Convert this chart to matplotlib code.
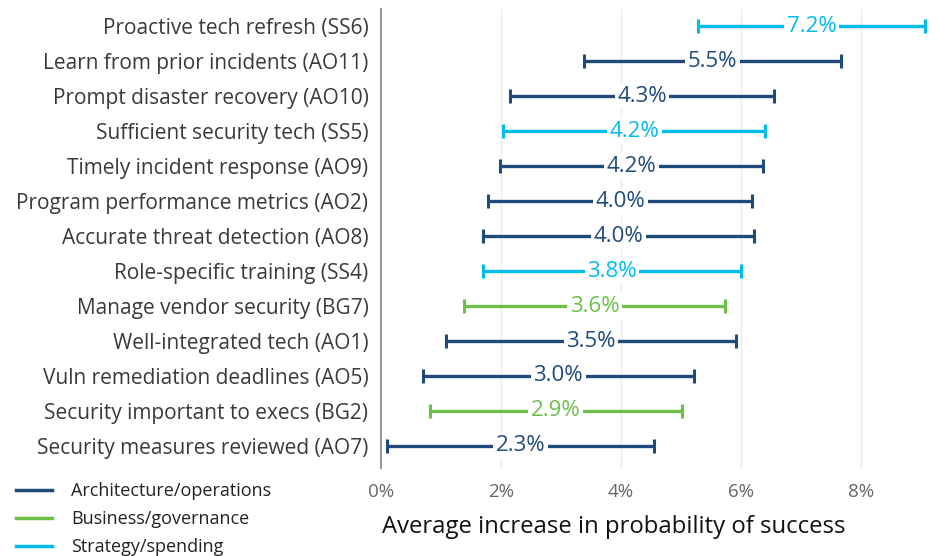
import matplotlib
matplotlib.use("Agg")
import matplotlib.pyplot as plt
from matplotlib.lines import Line2D

labels = ["Proactive tech refresh (SS6)", "Learn from prior incidents (AO11)",
          "Prompt disaster recovery (AO10)", "Sufficient security tech (SS5)",
          "Timely incident response (AO9)", "Program performance metrics (AO2)",
          "Accurate threat detection (AO8)", "Role-specific training (SS4)",
          "Manage vendor security (BG7)", "Well-integrated tech (AO1)",
          "Vuln remediation deadlines (AO5)", "Security important to execs (BG2)",
          "Security measures reviewed (AO7)"]
values = [7.2, 5.5, 4.3, 4.2, 4.2, 4.0, 4.0, 3.8, 3.6, 3.5, 3.0, 2.9, 2.3]
lower = [5.29, 3.39, 2.15, 2.04, 1.98, 1.79, 1.70, 1.70, 1.39, 1.09, 0.70, 0.81, 0.10]
upper = [9.07, 7.67, 6.55, 6.40, 6.36, 6.18, 6.22, 6.00, 5.73, 5.91, 5.21, 5.02, 4.55]
groups = ["S", "A", "A", "S", "A", "A", "A", "S", "B", "A", "A", "B", "A"]
group_names = {"A": "Architecture/operations", "B": "Business/governance", "S": "Strategy/spending"}
colors = {"A": "#1F4A7A", "B": "#6CC04A", "S": "#00BCEB"}
xticks = [0, 2, 4, 6, 8]

plt.rcParams['font.family'] = ['Open Sans', 'DejaVu Sans']

fig = plt.figure(figsize=(9.39, 5.56), dpi=100)
ax = fig.add_axes([381/939, 1-468/556, (927-381)/939, (468-9)/556])

for i, (lo, hi, v, g) in enumerate(zip(lower, upper, values, groups)):
    mid = (lo + hi) / 2
    c = colors[g]
    ax.errorbar(mid, i, xerr=[[mid-lo], [hi-mid]], fmt='none', ecolor=c,
                elinewidth=2.4, capsize=5, capthick=2.2, clip_on=False, zorder=3)
    ax.text(mid, i, f"{v:.1f}%", ha='center', va='center', color=c, fontsize=16,
            bbox=dict(boxstyle='square,pad=0.12', fc='white', ec='none'), zorder=4)

ax.set_xlim(0, 9.1)
ax.set_ylim(12.63, -0.49)
ax.set_yticks(range(len(labels)))
ax.set_yticklabels(labels, fontsize=15, color='#3a3a3a')
ax.set_xticks(xticks)
ax.set_xticklabels([f"{t}%" for t in xticks], fontsize=13.5, color='#666666')
ax.tick_params(axis='both', length=0)
ax.tick_params(axis='y', pad=9)
ax.tick_params(axis='x', pad=11)
ax.grid(axis='x', color='#ececec', linewidth=1)
ax.set_axisbelow(True)
for s in ['top', 'right', 'bottom']:
    ax.spines[s].set_visible(False)
ax.spines['left'].set_color('#999999')
ax.spines['left'].set_linewidth(1.5)

fig.text(382/939, 1-527/556, "Average increase in probability of success", fontsize=17.2,
         ha='left', va='center', color='#111111')

handles = [Line2D([], [], color=colors[k], lw=2.5) for k in ["A", "B", "S"]]
fig.legend(handles, [group_names[k] for k in ["A", "B", "S"]], loc='lower left',
           bbox_to_anchor=(0.0, -0.029), frameon=False,
           handlelength=2.0, handletextpad=1.05, labelspacing=0.54,
           prop={'size': 13}, labelcolor='#222222')

fig.savefig("out.png", dpi=100)
